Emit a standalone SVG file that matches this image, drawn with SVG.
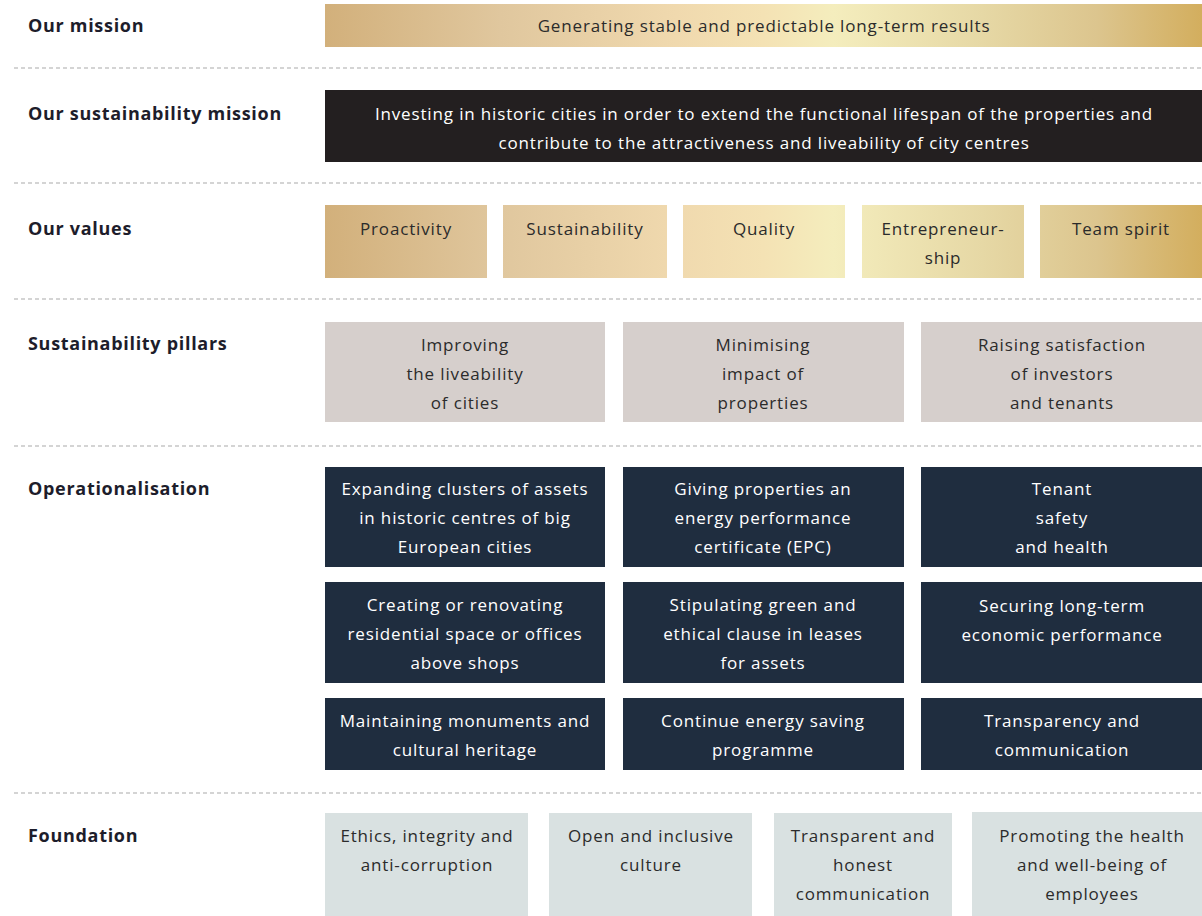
<svg xmlns="http://www.w3.org/2000/svg" width="1202" height="916" viewBox="0 0 1202 916">
<defs>
<linearGradient id="gGold" gradientUnits="userSpaceOnUse" x1="325" y1="0" x2="1202" y2="0">
<stop offset="0" stop-color="#d2b07b"/>
<stop offset="0.2" stop-color="#e0c79e"/>
<stop offset="0.4" stop-color="#f0d9ae"/>
<stop offset="0.5" stop-color="#f4e2b4"/>
<stop offset="0.58" stop-color="#f4edbd"/>
<stop offset="0.75" stop-color="#e6d8a5"/>
<stop offset="0.88" stop-color="#dcc58e"/>
<stop offset="1" stop-color="#d3ae5e"/>
</linearGradient>
<linearGradient id="gConn" x1="0" y1="0" x2="0" y2="1">
<stop offset="0" stop-color="#4a4540"/>
<stop offset="1" stop-color="#1e1e1e"/>
</linearGradient>
</defs>
<style>
.lbl{font-family:"Open Sans","Liberation Sans",sans-serif;font-weight:bold;font-size:18px;letter-spacing:0.7px;fill:#1d1d2b}
.t{font-family:"Open Sans","Liberation Sans",sans-serif;font-size:17px;letter-spacing:0.85px;text-anchor:middle;dominant-baseline:central}
.dk{fill:#2b2b2b}
.lt{fill:#ffffff}
.sep{stroke:#a9a9a9;stroke-width:1.2;stroke-dasharray:4 3;fill:none}
.gold{fill:url(#gGold)}
.pillar{fill:#d6cfcc}
.op{fill:#1f2d3f}
.fd{fill:#d9e1e1}
.conn{stroke:url(#gConn);stroke-width:3;fill:none}
</style>
<rect width="1202" height="916" fill="#ffffff"/>

<g id="separators">
<line class="sep" x1="14" y1="68" x2="1202" y2="68"/>
<line class="sep" x1="14" y1="183" x2="1202" y2="183"/>
<line class="sep" x1="14" y1="299" x2="1202" y2="299"/>
<line class="sep" x1="14" y1="446" x2="1202" y2="446"/>
<line class="sep" x1="14" y1="793" x2="1202" y2="793"/>
</g>

<g id="row-labels">
<text class="lbl" x="28" y="32">Our mission</text>
<text class="lbl" x="28" y="120">Our sustainability mission</text>
<text class="lbl" x="28" y="235">Our values</text>
<text class="lbl" x="28" y="350">Sustainability pillars</text>
<text class="lbl" x="28" y="495">Operationalisation</text>
<text class="lbl" x="28" y="842">Foundation</text>
</g>

<g id="mission">
<rect class="gold" x="325" y="4" width="877" height="43"/>
<text class="t dk" x="764" y="25">Generating stable and predictable long-term results</text>
</g>

<g id="sustainability-mission">
<rect x="325" y="90" width="877" height="72" fill="#231f20"/>
<text class="t lt" x="764" y="113">Investing in historic cities in order to extend the functional lifespan of the properties and</text>
<text class="t lt" x="764" y="142">contribute to the attractiveness and liveability of city centres</text>
</g>

<g id="value-proactivity">
<rect class="gold" x="325" y="205" width="162" height="73"/>
<text class="t dk" x="406" y="228">Proactivity</text>
</g>
<g id="value-sustainability">
<rect class="gold" x="503" y="205" width="164" height="73"/>
<text class="t dk" x="585" y="228">Sustainability</text>
</g>
<g id="value-quality">
<rect class="gold" x="683" y="205" width="162" height="73"/>
<text class="t dk" x="764" y="228">Quality</text>
</g>
<g id="value-entrepreneurship">
<rect class="gold" x="862" y="205" width="162" height="73"/>
<text class="t dk" x="943" y="228">Entrepreneur-</text>
<text class="t dk" x="943" y="257">ship</text>
</g>
<g id="value-teamspirit">
<rect class="gold" x="1040" y="205" width="162" height="73"/>
<text class="t dk" x="1121" y="228">Team spirit</text>
</g>

<g id="pillar-1">
<rect class="pillar" x="325" y="322" width="280" height="100"/>
<text class="t dk" x="465" y="344">Improving</text>
<text class="t dk" x="465" y="373">the liveability</text>
<text class="t dk" x="465" y="402">of cities</text>
</g>
<g id="pillar-2">
<rect class="pillar" x="623" y="322" width="281" height="100"/>
<text class="t dk" x="763" y="344">Minimising</text>
<text class="t dk" x="763" y="373">impact of</text>
<text class="t dk" x="763" y="402">properties</text>
</g>
<g id="pillar-3">
<rect class="pillar" x="921" y="322" width="281" height="100"/>
<text class="t dk" x="1062" y="344">Raising satisfaction</text>
<text class="t dk" x="1062" y="373">of investors</text>
<text class="t dk" x="1062" y="402">and tenants</text>
</g>

<g id="connectors">
<line class="conn" x1="466" y1="422" x2="466" y2="467"/>
<line class="conn" x1="763" y1="422" x2="763" y2="467"/>
<line class="conn" x1="1062" y1="422" x2="1062" y2="467"/>
</g>

<g id="op-1-1">
<rect class="op" x="325" y="467" width="280" height="100"/>
<text class="t lt" x="465" y="488">Expanding clusters of assets</text>
<text class="t lt" x="465" y="517">in historic centres of big</text>
<text class="t lt" x="465" y="546">European cities</text>
</g>
<g id="op-1-2">
<rect class="op" x="325" y="582" width="280" height="101"/>
<text class="t lt" x="465" y="604">Creating or renovating</text>
<text class="t lt" x="465" y="633">residential space or offices</text>
<text class="t lt" x="465" y="662">above shops</text>
</g>
<g id="op-1-3">
<rect class="op" x="325" y="698" width="280" height="72"/>
<text class="t lt" x="465" y="720">Maintaining monuments and</text>
<text class="t lt" x="465" y="749">cultural heritage</text>
</g>
<g id="op-2-1">
<rect class="op" x="623" y="467" width="281" height="100"/>
<text class="t lt" x="763" y="488">Giving properties an</text>
<text class="t lt" x="763" y="517">energy performance</text>
<text class="t lt" x="763" y="546">certificate (EPC)</text>
</g>
<g id="op-2-2">
<rect class="op" x="623" y="582" width="281" height="101"/>
<text class="t lt" x="763" y="604">Stipulating green and</text>
<text class="t lt" x="763" y="633">ethical clause in leases</text>
<text class="t lt" x="763" y="662">for assets</text>
</g>
<g id="op-2-3">
<rect class="op" x="623" y="698" width="281" height="72"/>
<text class="t lt" x="763" y="720">Continue energy saving</text>
<text class="t lt" x="763" y="749">programme</text>
</g>
<g id="op-3-1">
<rect class="op" x="921" y="467" width="281" height="100"/>
<text class="t lt" x="1062" y="488">Tenant</text>
<text class="t lt" x="1062" y="517">safety</text>
<text class="t lt" x="1062" y="546">and health</text>
</g>
<g id="op-3-2">
<rect class="op" x="921" y="582" width="281" height="101"/>
<text class="t lt" x="1062" y="605">Securing long-term</text>
<text class="t lt" x="1062" y="634">economic performance</text>
</g>
<g id="op-3-3">
<rect class="op" x="921" y="698" width="281" height="72"/>
<text class="t lt" x="1062" y="720">Transparency and</text>
<text class="t lt" x="1062" y="749">communication</text>
</g>

<g id="foundation-1">
<rect class="fd" x="325" y="813" width="203" height="103"/>
<text class="t dk" x="427" y="835">Ethics, integrity and</text>
<text class="t dk" x="427" y="864">anti-corruption</text>
</g>
<g id="foundation-2">
<rect class="fd" x="549" y="813" width="203" height="103"/>
<text class="t dk" x="651" y="835">Open and inclusive</text>
<text class="t dk" x="651" y="864">culture</text>
</g>
<g id="foundation-3">
<rect class="fd" x="774" y="813" width="178" height="103"/>
<text class="t dk" x="863" y="835">Transparent and</text>
<text class="t dk" x="863" y="864">honest</text>
<text class="t dk" x="863" y="893">communication</text>
</g>
<g id="foundation-4">
<rect class="fd" x="972" y="812" width="230" height="104"/>
<text class="t dk" x="1092" y="835">Promoting the health</text>
<text class="t dk" x="1092" y="864">and well-being of</text>
<text class="t dk" x="1092" y="893">employees</text>
</g>
</svg>
